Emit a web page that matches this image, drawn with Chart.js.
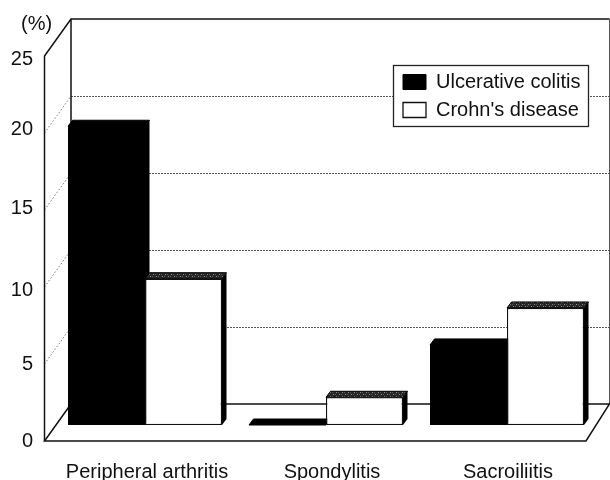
<!DOCTYPE html>
<html><head><meta charset="utf-8">
<style>html,body{margin:0;padding:0;background:#fff}#w{width:610px;height:480px;position:relative}</style>
<script src="https://cdn.jsdelivr.net/npm/chart.js@4"></script>
</head><body><div id="w"><canvas id="c" width="610" height="480"></canvas></div>
<script>
const categories = ['Peripheral arthritis', 'Spondylitis', 'Sacroiliitis'];
const ulcerativeColitis = [19.4, 0, 5.2];
const crohnsDisease = [9.5, 1.8, 7.6];
const yMax = 25;
const yStep = 5;
const xLabelNudge = [2, 6, 1];
const yLabelNudge = [0, 0, 3, -2, -4, 3];

const FONT = '"Liberation Sans", Arial, sans-serif';

function stipple(ctx) {
  const p = document.createElement('canvas');
  p.width = 6; p.height = 4;
  const g = p.getContext('2d');
  g.fillStyle = '#262626'; g.fillRect(0, 0, 6, 4);
  g.fillStyle = '#8a8a8a'; g.fillRect(0, 0, 1, 1); g.fillRect(3, 2, 1, 1);
  g.fillStyle = '#5c5c5c'; g.fillRect(2, 0, 1, 1); g.fillRect(5, 2, 1, 1);
  return ctx.createPattern(p, 'repeat');
}

const box3d = {
  id: 'box3d',
  beforeDraw(chart) {
    const {ctx} = chart, y = chart.scales.y;
    // nudge tick labels to where the reference has them
    chart.scales.x.getLabelItems().forEach((it, i) => { if (!it._n) { it.options.translation[0] += xLabelNudge[i]; it._n = 1; } });
    y.getLabelItems().forEach((it, i) => { if (!it._n) { it.options.translation[1] += yLabelNudge[i]; it._n = 1; } });

    const frontDy = 16, backDy = -21, fl = 44.5, bl = 71, br = 609.5, fr = 586;
    const line = (pts, w, col, dash) => {
      ctx.save(); ctx.beginPath(); ctx.lineWidth = w; ctx.strokeStyle = col; ctx.setLineDash(dash || []);
      pts.forEach((p, i) => i ? ctx.lineTo(p[0], p[1]) : ctx.moveTo(p[0], p[1]));
      ctx.stroke(); ctx.restore();
    };
    const top = y.getPixelForValue(yMax), zero = y.getPixelForValue(0);
    // gridlines on back and side wall
    for (let v = yStep; v < yMax; v += yStep) {
      const p = y.getPixelForValue(v);
      line([[bl, p + backDy + .5], [br, p + backDy + .5]], 1, '#555', [2, 1]);
      line([[fl, p + frontDy], [bl, p + backDy]], 1, '#777', [1.5, 2]);
    }
    // walls
    line([[fl, zero + frontDy], [fl, top + frontDy], [bl, top + backDy], [br, top + backDy]], 1.5, '#111');
    line([[bl, top + backDy], [bl, zero + backDy]], 1.5, '#111');
    line([[br, top + backDy], [br, zero + backDy]], 1, '#555');
    // floor
    line([[bl, zero + backDy], [br, zero + backDy], [fr, zero + frontDy], [fl, zero + frontDy], [bl, zero + backDy]], 1.5, '#111');

    // 3D bar extrusions, behind the bar faces
    const dx = 4.5, dy = 6;
    const pat = stipple(ctx);
    chart.data.datasets.forEach((ds, d) => {
      chart.getDatasetMeta(d).data.forEach(b => {
        const l = b.x - b.width / 2, r = b.x + b.width / 2, t = b.y, base = b.base;
        ctx.fillStyle = '#000';
        ctx.beginPath(); ctx.moveTo(r, t); ctx.lineTo(r + dx, t - dy); ctx.lineTo(r + dx, base - dy); ctx.lineTo(r, base); ctx.closePath(); ctx.fill();
        ctx.beginPath(); ctx.moveTo(l, t); ctx.lineTo(l + dx, t - dy); ctx.lineTo(r + dx, t - dy); ctx.lineTo(r, t); ctx.closePath();
        ctx.fillStyle = d === 0 ? '#000' : pat; ctx.fill();
        ctx.lineWidth = 1; ctx.strokeStyle = '#000'; ctx.stroke();
        if (d === 0 && base - t > 3) { ctx.fillStyle = '#000'; ctx.fillRect(l, t - 1, r - l, 3); }
      });
    });

    // legend frame
    ctx.fillStyle = '#fff'; ctx.fillRect(393.5, 65.5, 195, 61);
    ctx.lineWidth = 1.3; ctx.strokeStyle = '#222'; ctx.strokeRect(393.5, 65.5, 195, 61);
    const lg = chart.legend;
    lg.left = 395; lg.right = 600; lg.top = 64; lg.bottom = 400;

    // unit label
    ctx.fillStyle = '#111'; ctx.font = '20px ' + FONT; ctx.textAlign = 'left'; ctx.textBaseline = 'alphabetic';
    ctx.fillText('(%)', 21, 30);
  }
};

new Chart(document.getElementById('c'), {
  type: 'bar',
  data: {
    labels: categories,
    datasets: [
      {label: 'Ulcerative colitis', data: ulcerativeColitis, backgroundColor: '#000', borderColor: '#000', borderWidth: 1},
      {label: "Crohn's disease", data: crohnsDisease, backgroundColor: '#fff', borderColor: '#111', borderWidth: 1.3}
    ]
  },
  options: {
    responsive: false,
    animation: false,
    events: [],
    layout: {padding: {left: 0, right: 12.5, top: 40, bottom: 0}},
    datasets: {bar: {categoryPercentage: 154 / 181, barPercentage: 1, borderSkipped: false}},
    plugins: {
      tooltip: {enabled: false},
      legend: {
        position: 'chartArea',
        align: 'start',
        labels: {boxWidth: 23, boxHeight: 15, padding: 8, color: '#111', font: {family: FONT, size: 20}}
      }
    },
    scales: {
      x: {
        grid: {display: false, drawTicks: false},
        border: {display: false},
        afterFit(s) { s.height = 55; },
        ticks: {padding: 35, color: '#111', autoSkip: false, maxRotation: 0, font: {family: FONT, size: 20}}
      },
      y: {
        min: 0, max: yMax,
        grid: {display: false, drawTicks: false},
        border: {display: false},
        afterFit(s) { s.width = 54.5; },
        ticks: {stepSize: yStep, padding: 21.5, labelOffset: 16.5, color: '#111', font: {family: FONT, size: 20}}
      }
    }
  },
  plugins: [box3d]
});
</script></body></html>
